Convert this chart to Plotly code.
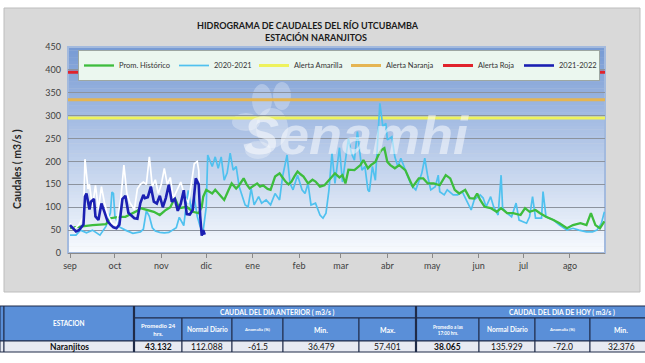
import plotly.graph_objects as go
import pandas as pd

# ---------------- data ----------------
month_days = [0, 30, 61, 91, 122, 153, 181, 212, 242, 273, 303, 334]
month_labels = ["sep", "oct", "nov", "dic", "ene", "feb", "mar", "abr", "may", "jun", "jul", "ago"]

hist_days = [0, 5, 10, 15, 20, 24, 27, 30, 33, 37, 40, 42, 45, 47, 50, 53, 56, 60, 64, 67, 70, 73, 76, 78,
             82, 86, 88, 89, 91, 93, 95, 97, 100, 103, 106, 108, 111, 113, 116, 118, 120, 123, 125, 127,
             129, 132, 134, 137, 140, 142, 144, 146, 148, 150, 152, 154, 156, 159, 162, 164, 167, 170,
             172, 174, 177, 180, 182, 184, 186, 190, 194, 196, 199, 201, 204, 206, 208, 210, 212, 214,
             217, 220, 224, 227, 229, 233, 236, 239, 243, 247, 249, 251, 254, 257, 260, 264, 267, 270,
             272, 274, 277, 281, 285, 288, 292, 296, 301, 304, 307, 311, 314, 318, 323, 327, 332, 336,
             341, 345, 348, 351, 354, 357]
hist_vals = [55, 57, 60, 61, 62, 63, 76, 78, 79, 79, 84, 87, 92, 98, 95, 92, 90, 83, 94, 100, 120, 98, 100, 101,
             90, 87, 100, 123, 138, 134, 130, 138, 127, 116, 138, 152, 141, 148, 163, 150, 141, 148, 152, 145,
             148, 140, 138, 167, 174, 165, 156, 150, 156, 168, 178, 172, 167, 152, 160, 156, 145, 148,
             155, 163, 174, 165, 170, 152, 182, 181, 192, 203, 185, 192, 199, 214, 225, 229, 199, 192,
             185, 192, 181, 159, 145, 163, 163, 152, 152, 148, 159, 170, 163, 138, 130, 138, 120, 119,
             130, 116, 101, 98, 90, 98, 87, 87, 83, 98, 90, 94, 87, 79, 72, 65, 54, 61,
             65, 61, 87, 61, 54, 69]

y2021_days = [0, 4, 7, 11, 15, 20, 24, 27, 28, 29, 30, 33, 37, 42, 47, 49, 51, 53, 55, 57, 60, 63, 66, 69, 71,
              73, 76, 78, 79, 81, 83, 85, 87, 89, 91, 92, 95, 97, 99, 101, 103, 105, 107, 109, 111, 113,
              115, 117, 119, 121, 123, 126, 128, 131, 134, 137, 140, 142, 145, 147, 149, 152, 155, 157,
              159, 161, 164, 167, 169, 171, 173, 175, 177, 180, 182, 186, 188, 190, 192, 195, 197, 199,
              200, 202, 204, 206, 207, 209, 211, 212, 215, 217, 219, 221, 224, 226, 228, 231, 235, 237,
              239, 241, 244, 246, 247, 250, 252, 256, 259, 262, 266, 268, 270, 274, 276, 278, 281, 283,
              286, 288, 289, 292, 295, 298, 300, 305, 307, 309, 311, 315, 316, 318, 323, 327, 332, 336,
              340, 345, 349, 352, 355, 357]
y2021_vals = [39, 39, 50, 44, 50, 39, 58, 88, 133, 130, 80, 57, 50, 43, 46, 52, 92, 80, 55, 48, 45, 44, 45, 50, 55,
              78, 60, 116, 137, 95, 122, 80, 57, 50, 100, 214, 189, 210, 185, 210, 159, 175, 218, 181, 189, 145,
              125, 105, 101, 141, 105, 123, 109, 116, 105, 130, 116, 167, 214, 152, 138, 170, 138, 130,
              152, 105, 109, 83, 76, 87, 138, 218, 152, 230, 155, 250, 218, 203, 265, 181, 189, 138,
              134, 189, 159, 283, 327, 276, 283, 247, 254, 210, 189, 207, 181, 167, 148, 138, 174, 207,
              167, 138, 145, 170, 134, 127, 138, 127, 127, 134, 105, 94, 116, 127, 120, 101, 123, 101,
              83, 170, 98, 87, 79, 109, 72, 65, 79, 123, 76, 76, 134, 79, 72, 61, 50, 54,
              50, 46, 46, 50, 65, 90]

y2122_days = [0, 2, 4, 6, 8, 9, 10, 11, 13, 14, 16, 17, 19, 21, 23, 25, 27, 29, 31, 33, 35, 37, 39, 41, 43, 45,
              47, 49, 50, 52, 54, 56, 58, 60, 62, 64, 66, 68, 70, 72, 74, 76, 78, 80, 82, 84, 85, 86, 87,
              88, 89, 90]
y2122_vals = [61, 55, 47, 50, 58, 62, 123, 130, 95, 112, 118, 80, 72, 108, 90, 70, 62, 56, 54, 62, 118, 125, 88,
              82, 76, 75, 109, 127, 120, 122, 145, 112, 108, 125, 100, 120, 149, 112, 118, 92, 108, 137, 85,
              84, 94, 163, 158, 150, 80, 38, 50, 40]

max2122_days = [0, 3, 6, 9, 10, 12, 13, 15, 17, 19, 21, 23, 25, 28, 31, 34, 36, 38, 40, 43, 45, 47, 49, 51, 53,
                55, 57, 59, 61, 63, 65, 67, 69, 72, 74, 77, 79, 81, 83, 85, 86, 87, 88]
max2122_vals = [65, 52, 62, 80, 205, 140, 150, 100, 148, 95, 145, 110, 85, 65, 60, 120, 192, 130, 110, 95, 140,
                150, 155, 150, 210, 145, 160, 130, 150, 185, 150, 165, 120, 140, 155, 120, 110, 150, 195,
                200, 180, 100, 45]

alert_names = ["Alerta Amarilla", "Alerta Naranja", "Alerta Roja"]
alert_vals = [295, 335, 395]

table_groups = ["CAUDAL DEL DIA ANTERIOR ( m3/s )", "CAUDAL DEL DIA DE HOY ( m3/s )"]
table_station_header = "ESTACION"
table_subheads = ["Promedio 24<br>hrs.", "Normal Diario", "Anomalía (%)", "Min.", "Max.",
                  "Promedio a las<br>17:00 hrs.", "Normal Diario", "Anomalía (%)", "Min."]
table_values = ["43.132", "112.088", "-61.5", "36.479", "57.401", "38.065", "135.929", "-72.0", "32.376"]
station_name = "Naranjitos"

# ---------------- helpers ----------------
BASE = pd.Timestamp("2020-09-01")


def to_dates(days):
    return [BASE + pd.Timedelta(days=float(d)) for d in days]


W, H = 645, 363
PL, PR, PT, PB = 68, 605, 47, 253


def px(x):
    return (x - PL) / (PR - PL)


def py(y):
    return (PB - y) / (PB - PT)


x_range = to_dates([-1.34, 357.4])
FONT = "Lato"

fig = go.Figure()

# alert lines
alert_colors = ["#eef25c", "#e5b552", "#e0232c"]
alert_lw = [47, 47, 36]
for name, val, col, rank, lw in zip(alert_names, alert_vals, alert_colors, [3, 4, 5], alert_lw):
    fig.add_trace(go.Scatter(x=x_range, y=[val, val], mode="lines", name=name,
                             line=dict(color=col, width=3), legendrank=rank, legendwidth=lw))

fig.add_trace(go.Scatter(x=to_dates(y2021_days), y=y2021_vals, mode="lines", name="2020-2021",
                         line=dict(color="#4fc1ef", width=1.7), legendrank=2, legendwidth=35))
fig.add_trace(go.Scatter(x=to_dates(hist_days), y=hist_vals, mode="lines", name="Prom. Histórico",
                         line=dict(color="#3dbd3d", width=2.3), legendrank=1, legendwidth=50))
fig.add_trace(go.Scatter(x=to_dates(max2122_days), y=max2122_vals, mode="lines", name="max",
                         line=dict(color="#ffffff", width=1.7), showlegend=False))
fig.add_trace(go.Scatter(x=to_dates(y2122_days), y=y2122_vals, mode="lines", name="2021-2022",
                         line=dict(color="#1b20b2", width=2.6), legendrank=6, legendwidth=35))

shapes = []
# gray chart panel
shapes.append(dict(type="rect", xref="paper", yref="paper", x0=px(4), x1=px(640), y0=py(292), y1=py(8),
                   fillcolor="#d9d9d9", line=dict(color="#bdbdbd", width=1), layer="below"))
# gradient plot background
N = 60
top = (120, 155, 212)
bot = (247, 250, 254)
for i in range(N):
    t = i / (N - 1)
    c = tuple(int(round(top[k] + (bot[k] - top[k]) * t)) for k in range(3))
    shapes.append(dict(type="rect", xref="paper", yref="paper", x0=0, x1=1,
                       y0=1 - (i + 1) / N - 0.002, y1=1 - i / N,
                       fillcolor="rgb(%d,%d,%d)" % c, line=dict(width=0), layer="below"))
shapes.append(dict(type="rect", xref="paper", yref="paper", x0=0, x1=1, y0=0, y1=1,
                   line=dict(color="#a3bade", width=2), layer="below"))

# watermark logo petals
for (cx, cy, rx, ry) in [(262, 100, 10, 16), (246, 122, 14, 9), (282, 96, 9, 14), (258, 150, 13, 9),
                         (272, 128, 16, 20)]:
    shapes.append(dict(type="circle", xref="paper", yref="paper", x0=px(cx - rx), x1=px(cx + rx),
                       y0=py(cy + ry), y1=py(cy - ry), fillcolor="rgba(255,255,255,0.28)",
                       line=dict(width=0), layer="below"))

annotations = []


def txt(s, x, y, size, color, bold=False, family=FONT, angle=0, **kw):
    annotations.append(dict(text=("<b>%s</b>" % s) if bold else s, x=px(x), y=py(y), xref="paper",
                            yref="paper", showarrow=False, xanchor="center", yanchor="middle",
                            textangle=angle, font=dict(family=family, size=size, color=color, **kw)))


txt("Senamhi", 356, 135, 54, "rgba(255,255,255,0.5)", family="Liberation Sans", weight="bold", style="italic")

# titles
txt("HIDROGRAMA DE CAUDALES DEL RÍO UTCUBAMBA", 308, 25, 9, "#1a1a1a", True)
txt("ESTACIÓN NARANJITOS", 316, 37.5, 9, "#1a1a1a", True)
txt("Caudales ( m3/s )", 17, 169, 10.5, "#262626", True, angle=-90)

# ---------------- table ----------------
BLUE = "#5a8fd8"
LIGHT = "#e7eaf2"
EDGE = "#1f2b48"
col_x = [0, 4, 134, 182, 232, 283, 359, 416, 479, 535, 590, 652]
R0, R1, R2, R3 = 306, 318, 341, 352


def cell(x0, y0, x1, y1, fill, lw=1):
    shapes.append(dict(type="rect", xref="paper", yref="paper", x0=px(x0), x1=px(x1), y0=py(y1), y1=py(y0),
                       fillcolor=fill, line=dict(color=EDGE, width=lw), layer="above"))


cell(col_x[0], R0, col_x[1], R2, BLUE)
cell(col_x[1], R0, col_x[2], R2, BLUE)
cell(col_x[2], R0, col_x[7], R1, BLUE)
cell(col_x[7], R0, col_x[11], R1, BLUE)
for i in range(2, 11):
    cell(col_x[i], R1, col_x[i + 1], R2, BLUE)
for i in range(0, 11):
    cell(col_x[i], R2, col_x[i + 1], R3, LIGHT)
for xx in (col_x[2], col_x[7]):
    shapes.append(dict(type="line", xref="paper", yref="paper", x0=px(xx), x1=px(xx), y0=py(R3), y1=py(R0),
                       line=dict(color=EDGE, width=2.2), layer="above"))

txt(table_station_header, (col_x[1] + col_x[2]) / 2, (R0 + R2) / 2, 6.5, "white", True)
txt(table_groups[0], 277, (R0 + R1) / 2, 6.8, "white", True)
txt(table_groups[1], 562, (R0 + R1) / 2, 6.8, "white", True)
sub_sizes = [6, 6.5, 4.3, 7, 7, 4.6, 6.5, 4.3, 7]
for i, (s, fs) in enumerate(zip(table_subheads, sub_sizes)):
    txt(s, (col_x[i + 2] + col_x[i + 3]) / 2, (R1 + R2) / 2, fs, "white", True)
txt(station_name, (col_x[1] + col_x[2]) / 2, (R2 + R3) / 2 + 0.5, 8.5, "#111111", True)
for i, v in enumerate(table_values):
    txt(v, (col_x[i + 2] + col_x[i + 3]) / 2, (R2 + R3) / 2 + 0.5, 8.5, "#111111", i in (0, 5))

fig.update_layout(
    width=W, height=H,
    margin=dict(l=PL, r=W - PR, t=PT, b=H - PB, pad=0),
    paper_bgcolor="white",
    plot_bgcolor="rgba(0,0,0,0)",
    shapes=shapes,
    annotations=annotations,
    showlegend=True,
    legend=dict(orientation="h", x=px(78), y=py(50), xanchor="left", yanchor="top",
                bgcolor="#ebf7ef", bordercolor="#9da7a2", borderwidth=1,
                font=dict(family=FONT, size=7.5, color="#333333"), itemwidth=30,
                tracegroupgap=0),
    xaxis=dict(range=x_range, tickvals=to_dates(month_days), ticktext=month_labels,
               showgrid=False, ticks="outside", ticklen=4, tickcolor="#8a8a8a",
               showline=True, linecolor="#8a8a8a", linewidth=1,
               tickfont=dict(family=FONT, size=9, color="#404040"), zeroline=False),
    yaxis=dict(range=[0, 450], tickvals=list(range(0, 451, 50)), showgrid=True, gridcolor="#8c939e",
               gridwidth=1, zeroline=False, showline=False, ticks="",
               tickfont=dict(family=FONT, size=9, color="#404040"), ticklabelstandoff=6),
)

fig.write_html("out.html", config={"displayModeBar": False},
               post_script="document.body.style.margin='0';")
